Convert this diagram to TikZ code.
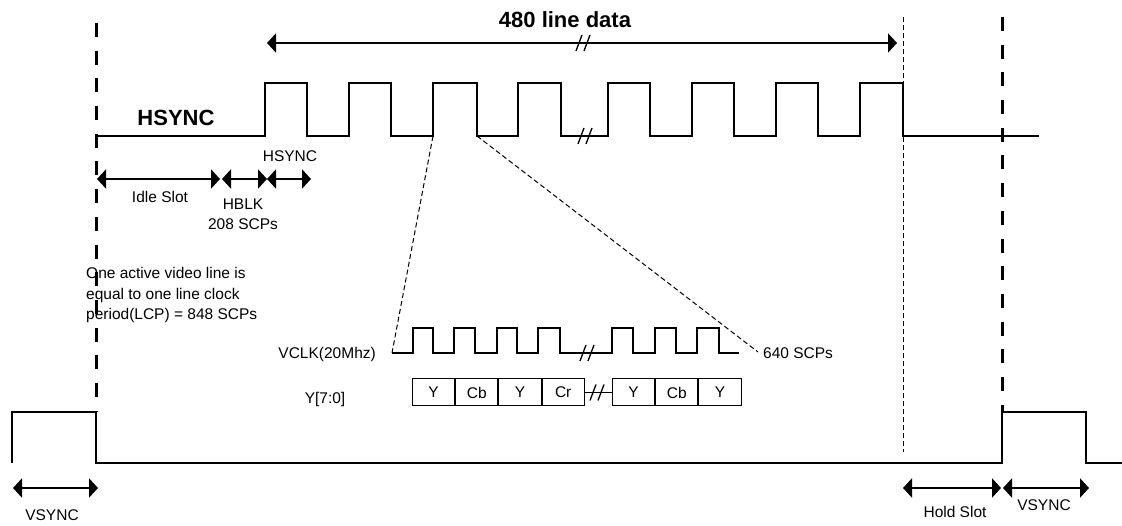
\documentclass[tikz,border=0pt]{standalone}
\usepackage{fontspec}
\setmainfont{Liberation Sans}
\usetikzlibrary{arrows.meta}
\tikzset{
  wave/.style={line width=2.8pt, line join=miter},
  thinwave/.style={line width=1.3pt},
  bigdash/.style={line width=3pt, dash pattern=on 14pt off 13.7pt},
  smalldash/.style={line width=1pt, dash pattern=on 5pt off 3pt},
  dimline/.style={line width=2.8pt, {Triangle[length=9pt,width=19pt]}-{Triangle[length=9pt,width=19pt]}},
  lbl/.style={font=\fontsize{15.5}{20}\selectfont, inner sep=0pt, anchor=base},
  biglbl/.style={font=\fontsize{22}{26}\selectfont\bfseries, inner sep=0pt, anchor=base},
  cell/.style={draw, line width=1pt, minimum width=42.2pt, minimum height=27pt, inner sep=0pt, anchor=west, font=\fontsize{15.5}{20}\selectfont},
  brk/.pic={\draw[line width=1.3pt] (-7,8) -- (-1,-8) (1,8) -- (7,-8);}
}
\begin{document}
\begin{tikzpicture}[x=1pt,y=-1pt]
\useasboundingbox (0,0) rectangle (1122,526);

% thick dashed frame lines
\coordinate (dl1) at (96,23);  \coordinate (dl2) at (96,412);
\coordinate (dr1) at (1002,17); \coordinate (dr2) at (1002,412);
\draw[bigdash] (dl1) -- (dl2);
\draw[bigdash] (dr1) -- (dr2);
% thin dashed end of data
\coordinate (de1) at (903,17); \coordinate (de2) at (903,452);
\draw[smalldash] (de1) -- (de2);

% 480 line data arrow
\coordinate (ta) at (267,43); \coordinate (tb) at (897,43);
\draw[dimline] (ta) -- (tb);
\pic at (583,43) {brk};
\node[biglbl] (t480) at (565,28) {480 line data};

% HSYNC waveform
\draw[wave] (96,136) -- (265,136) -- (265,83) -- (307,83) -- (307,136)
  -- (349,136) -- (349,83) -- (391,83) -- (391,136)
  -- (433,136) -- (433,83) -- (477,83) -- (477,136)
  -- (518,136) -- (518,83) -- (561,83) -- (561,136)
  -- (608,136) -- (608,83) -- (650,83) -- (650,136)
  -- (692,136) -- (692,83) -- (734,83) -- (734,136)
  -- (776,136) -- (776,83) -- (818,83) -- (818,136)
  -- (860,136) -- (860,83) -- (903,83) -- (903,136) -- (1039,136);
\pic at (585,136) {brk};
\node[biglbl] (hs) at (176,126) {HSYNC};

% timing arrows under HSYNC
\coordinate (i1) at (97,179); \coordinate (i2) at (220,179);
\coordinate (h1) at (222,179); \coordinate (h2) at (267,179);
\coordinate (s1) at (267,179); \coordinate (s2) at (311,179);
\draw[dimline] (i1) -- (i2);
\draw[dimline] (h1) -- (h2);
\draw[dimline] (s1) -- (s2);
\node[lbl] (lhs) at (290,162) {HSYNC};
\node[lbl] (lidle) at (160,203) {Idle Slot};
\node[lbl] (lhb) at (243,210) {HBLK};
\node[lbl] (l208) at (243,230) {208 SCPs};

% explanation
\node[lbl, anchor=base west] (e1) at (86,279) {One active video line is};
\node[lbl, anchor=base west] (e2) at (86,300) {equal to one line clock};
\node[lbl, anchor=base west] (e3) at (86,320) {period(LCP) = 848 SCPs};

% zoom lines
\coordinate (z1) at (433,136); \coordinate (z2) at (392,353);
\coordinate (z3) at (477,136); \coordinate (z4) at (758,352);
\draw[smalldash] (z1) -- (z2);
\draw[smalldash] (z3) -- (z4);

% VCLK waveform
\draw[thinwave] (392,353) -- (413,353) -- (413,328) -- (433,328) -- (433,353)
  -- (454,353) -- (454,328) -- (475,328) -- (475,353)
  -- (497,353) -- (497,328) -- (517,328) -- (517,353)
  -- (538,353) -- (538,328) -- (560,328) -- (560,353)
  -- (612,353) -- (612,328) -- (633,328) -- (633,353)
  -- (655,353) -- (655,328) -- (676,328) -- (676,353)
  -- (697,353) -- (697,328) -- (719,328) -- (719,353) -- (739,353);
\pic at (587,353) {brk};
\node[lbl, anchor=base east] (vclk) at (376,359) {VCLK(20Mhz)};
\node[lbl, anchor=base west] (l640) at (763,359) {640 SCPs};

% Y data boxes
\node[lbl] (ylab) at (325,404) {Y[7:0]};
\node[cell] (c1) at (412,392.5) {Y};
\node[cell] (c2) at (c1.east) {Cb};
\node[cell] (c3) at (c2.east) {Y};
\node[cell] (c4) at (c3.east) {Cr};
\node[cell] (c5) at (612,392.5) {Y};
\node[cell] (c6) at (c5.east) {Cb};
\node[cell] (c7) at (c6.east) {Y};
\draw[line width=1pt] (c4.east) -- (c5.west);
\pic at (597,392.5) {brk};

% VSYNC waveform
\draw[wave] (12,463) -- (12,412) -- (96,412) -- (96,463) -- (1002,463)
  -- (1002,412) -- (1086,412) -- (1086,463) -- (1122,463);

% bottom arrows
\coordinate (v1) at (13,488); \coordinate (v2) at (98,488);
\coordinate (hd1) at (903,488); \coordinate (hd2) at (1001,488);
\coordinate (w1) at (1003,488); \coordinate (w2) at (1089,488);
\draw[dimline] (v1) -- (v2);
\draw[dimline] (hd1) -- (hd2);
\draw[dimline] (w1) -- (w2);
\node[lbl] (lv1) at (52,520) {VSYNC};
\node[lbl] (lhold) at (955,517) {Hold Slot};
\node[lbl] (lv2) at (1044,510) {VSYNC};
\end{tikzpicture}
\end{document}
